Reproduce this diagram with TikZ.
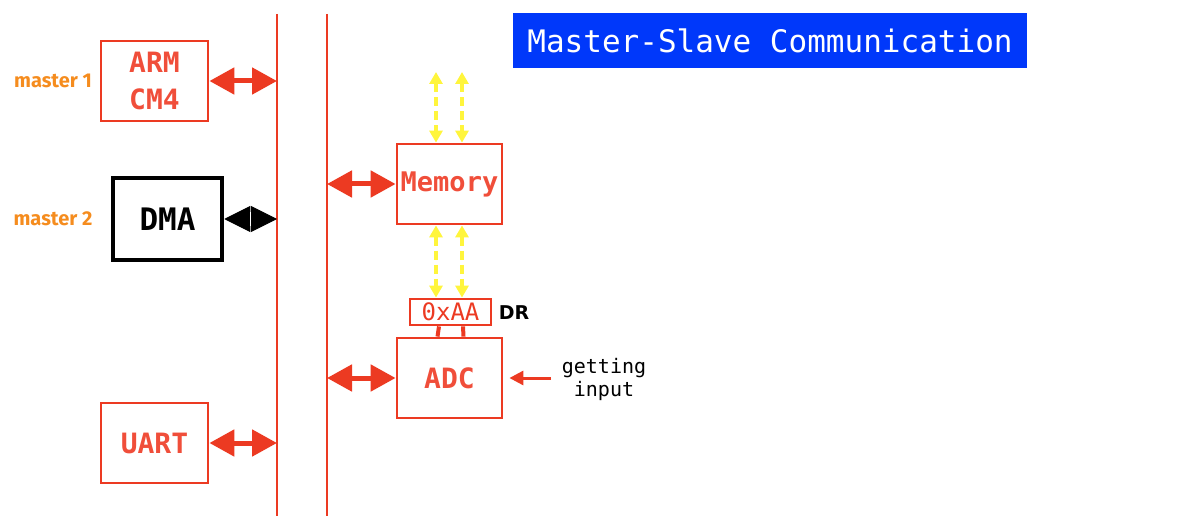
\documentclass[tikz,border=0pt]{standalone}
\usepackage{fontspec}
\setmainfont{DejaVu Sans}
\newfontfamily\monof{DejaVu Sans Mono}
\newfontfamily\labf{Fira Sans}
\usetikzlibrary{arrows.meta,calc}
\definecolor{busred}{RGB}{236,58,34}
\definecolor{txtred}{RGB}{240,78,58}
\definecolor{morange}{RGB}{245,140,30}
\definecolor{ttlblue}{RGB}{0,56,250}
\definecolor{dashy}{RGB}{255,245,60}
\begin{document}
\begin{tikzpicture}[x=1pt,y=-1pt,
  redbox/.style={draw=busred,line width=2.8pt,inner sep=0pt,text=txtred,font=\monof\bfseries\fontsize{28}{37}\selectfont,align=center},
  bigarrow/.style={busred,line width=5pt,{Triangle[length=25pt,width=26pt]}-{Triangle[length=25pt,width=26pt]}},
  yarrow/.style={dashy,line width=3.5pt,dash pattern=on 9pt off 5pt,{Triangle[length=12pt,width=13pt]}-{Triangle[length=12pt,width=13pt]}},
  mlabel/.style={text=morange,font=\labf\bfseries\fontsize{20}{22}\selectfont},
  busline/.style={busred,line width=2.8pt}]
\useasboundingbox (0,0) rectangle (1200,532);
% buses
\coordinate (b1t) at (277,14); \coordinate (b1b) at (277,516);
\coordinate (b2t) at (327,14); \coordinate (b2b) at (327,516);
\draw[busline] (b1t) -- (b1b);
\draw[busline] (b2t) -- (b2b);
% title
\node[fill=ttlblue,minimum width=514pt,minimum height=55pt,inner sep=0pt,text=white,font=\monof\fontsize{31}{34}\selectfont] (title) at (770,40.5) {Master-Slave Communication};
% masters
\node[redbox,minimum width=107pt,minimum height=80pt] (arm) at (154.5,81) {ARM\\CM4};
\node[mlabel] (m1) at (53,81) {master 1};
\node[draw=black,line width=4.5pt,inner sep=0pt,minimum width=109pt,minimum height=82pt,font=\monof\bfseries\fontsize{31}{34}\selectfont] (dma) at (167.5,219) {DMA};
\node[mlabel] (m2) at (53,219) {master 2};
\node[redbox,minimum width=107pt,minimum height=80pt] (uart) at (154.5,443) {UART};
% slaves
\node[redbox,minimum width=105pt,minimum height=80pt,font=\monof\bfseries\fontsize{27}{30}\selectfont] (mem) at (449.5,184) {Memory};
\node[redbox,minimum width=105pt,minimum height=80pt] (adc) at (449.5,378) {ADC};
\node[draw=busred,line width=2.8pt,inner sep=0pt,minimum width=81pt,minimum height=26pt,text=busred,font=\monof\fontsize{24}{26}\selectfont] (dr) at (450.5,312) {0xAA};
\node[font=\bfseries\fontsize{19}{22}\selectfont] (drl) at (514,313) {DR};
\node[font=\monof\fontsize{20}{23}\selectfont,align=center] (gin) at (604,379) {getting\\input};
% bus connectors
\coordinate (c1) at (277,81);
\coordinate (c2) at (277,219);
\coordinate (c3) at (277,443);
\coordinate (c4) at (327,184);
\coordinate (c5) at (327,378);
\draw[bigarrow] (arm.east) -- (c1);
\draw[bigarrow] (uart.east) -- (c3);
\draw[bigarrow] (c4) -- (mem.west);
\draw[bigarrow] (c5) -- (adc.west);
\draw[black,line width=1pt,{Triangle[length=26pt,width=26pt]}-{Triangle[length=26pt,width=26pt]}] (dma.east) -- (c2);
\draw[white,line width=1pt] ($(dma.east)!0.5!(c2)+(0,-7)$) -- ($(dma.east)!0.5!(c2)+(0,7)$);
% yellow dashed
\coordinate (y1) at (436,72);
\coordinate (y2) at (462,72);
\draw[yarrow] (y1) -- (y1 |- mem.north);
\draw[yarrow] (y2) -- (y2 |- mem.north);
\draw[yarrow] (mem.south -| y1) -- (dr.north -| y1);
\draw[yarrow] (mem.south -| y2) -- (dr.north -| y2);
% DR to ADC links
\draw[busred,line width=4pt] ($(dr.south)+(-11.5,0)$) -- ($(adc.north)+(-12,0)$);
\draw[busred,line width=4pt] ($(dr.south)+(12.5,0)$) -- ($(adc.north)+(14,0)$);
% input arrow
\coordinate (inp) at (551,378);
\draw[busred,line width=3pt,-{Triangle[length=14pt,width=14pt]},shorten >=6pt] (inp) -- (adc.east);
\end{tikzpicture}
\end{document}
